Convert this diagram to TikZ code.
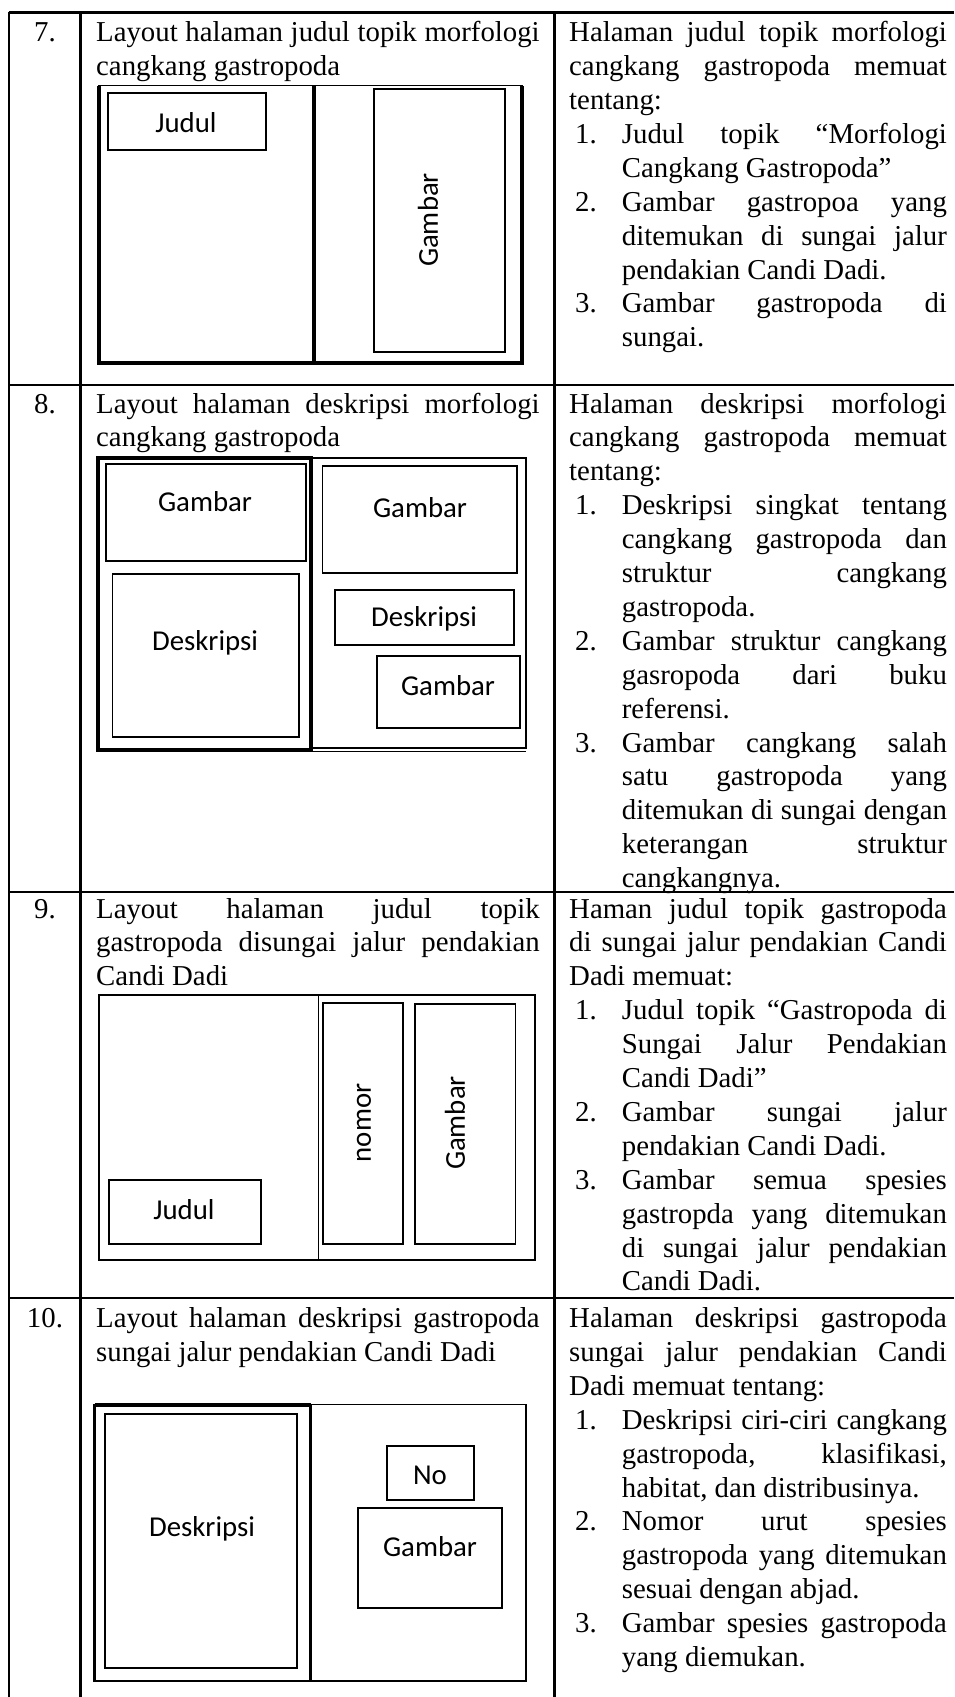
\documentclass[tikz,border=0pt]{standalone}
\usepackage{fontspec}
\setmainfont{Liberation Serif}
\newfontfamily\boxfont{Carlito}
\hyphenpenalty=10000
\exhyphenpenalty=10000
\tolerance=9999
\emergencystretch=20pt
\begin{document}
\begin{tikzpicture}[x=1pt,y=-1pt,
  rule/.style={line width=2.1pt},
  pagethick/.style={line width=3.5pt},
  pagethin/.style={line width=1.6pt},
  box/.style={line width=1.8pt},
  lbl/.style={font={\boxfont\fontsize{28.8}{34}\selectfont}, inner sep=0pt},
  para/.style={anchor=base west, inner sep=0pt, align=justify, font={\fontsize{28.8}{33.9}\selectfont}},
  mid/.style={para, text width=443.5pt},
  rgt/.style={para, text width=377.7pt},
  itm/.style={para, text width=325pt},
  num/.style={anchor=base west, inner sep=0pt, font={\fontsize{28.8}{33.9}\selectfont}},
  rownum/.style={anchor=base, inner sep=0pt, font={\fontsize{28.8}{33.9}\selectfont}}
]
\useasboundingbox (0,0) rectangle (954,1697);

% table rules
\draw[rule] (8.6,12.5) -- (954,12.5);
\draw[rule] (8.6,385) -- (954,385);
\draw[rule] (8.6,892) -- (954,892);
\draw[rule] (8.6,1298) -- (954,1298);
\draw[rule] (8.6,11.5) -- (8.6,1697);
\draw[rule] (80.5,11.5) -- (80.5,1697);
\draw[rule] (554.5,11.5) -- (554.5,1697);

% row numbers
\node[rownum] (n7) at (45,41.7) {7.};
\node[rownum] (n8) at (45,413) {8.};
\node[rownum] (n9) at (45,918) {9.};
\node[rownum] (n10) at (45,1327.5) {10.};

% ---------- row 7 ----------
\node[mid] (m7) at (96,41.7) {Layout halaman judul topik morfologi\linebreak cangkang gastropoda};
\draw[pagethin] (99,85.5) rectangle (522,363);
\draw[pagethick] (99,85.5) -- (99,363) -- (522,363) -- (522,85.5);
\draw[pagethick] (314,85.5) -- (314,363);
\draw[box] (108,93) rectangle (266,150);
\node[lbl] (d7judul) at (186,123) {Judul};
\draw[box] (374,89) rectangle (505,352);
\node[lbl, rotate=90] (d7gambar) at (428,220) {Gambar};

\node[rgt] (r7) at (569,41.7) {Halaman judul topik morfologi\linebreak cangkang gastropoda memuat\linebreak tentang:};
\node[num] (r7n1) at (575,143.4) {1.};
\node[itm] (r7i1) at (621.7,143.4) {Judul topik “Morfologi\linebreak Cangkang Gastropoda”};
\node[num] (r7n2) at (575,211.2) {2.};
\node[itm] (r7i2) at (621.7,211.2) {Gambar gastropoa yang\linebreak ditemukan di sungai jalur\linebreak pendakian Candi Dadi.};
\node[num] (r7n3) at (575,312.9) {3.};
\node[itm] (r7i3) at (621.7,312.9) {Gambar gastropoda di\linebreak sungai.};

% ---------- row 8 ----------
\node[mid] (m8) at (96,413) {Layout halaman deskripsi morfologi\linebreak cangkang gastropoda};
\draw[pagethin] (312,458) rectangle (526,748);
\draw[pagethin] (311,751.5) -- (526,751.5);
\draw[pagethick] (98,458) rectangle (311,750);
\draw[box] (106,464) rectangle (306,561);
\node[lbl] (d8g1) at (205,502) {Gambar};
\draw[box] (112.5,574) rectangle (299,737);
\node[lbl] (d8d1) at (205,643) {Deskripsi};
\draw[box] (322.5,466) rectangle (517,573);
\node[lbl] (d8g2) at (420,508) {Gambar};
\draw[box] (334.6,590) rectangle (513.6,645);
\node[lbl] (d8d2) at (424,619) {Deskripsi};
\draw[box] (377,656) rectangle (519.6,728);
\node[lbl] (d8g3) at (448,686) {Gambar};

\node[rgt] (r8) at (569,413) {Halaman deskripsi morfologi\linebreak cangkang gastropoda memuat\linebreak tentang:};
\node[num] (r8n1) at (575,514.7) {1.};
\node[itm] (r8i1) at (621.7,514.7) {Deskripsi singkat tentang\linebreak cangkang gastropoda dan\linebreak struktur cangkang\linebreak gastropoda.};
\node[num] (r8n2) at (575,650.3) {2.};
\node[itm] (r8i2) at (621.7,650.3) {Gambar struktur cangkang\linebreak gasropoda dari buku\linebreak referensi.};
\node[num] (r8n3) at (575,752) {3.};
\node[itm] (r8i3) at (621.7,752) {Gambar cangkang salah\linebreak satu gastropoda yang\linebreak ditemukan di sungai dengan\linebreak keterangan struktur\linebreak cangkangnya.};

% ---------- row 9 ----------
\node[mid] (m9) at (96,918) {Layout halaman judul topik\linebreak gastropoda disungai jalur pendakian\linebreak Candi Dadi};
\draw[box] (99,995) rectangle (535,1260);
\draw[pagethin] (318.6,995) -- (318.6,1260);
\draw[box] (323,1003) rectangle (403,1244);
\node[lbl, rotate=90] (d9nomor) at (364,1123) {nomor};
\draw[box] (415,1004) rectangle (515.4,1244);
\node[lbl, rotate=90] (d9gambar) at (455,1123) {Gambar};
\draw[box] (109,1180) rectangle (260.7,1244);
\node[lbl] (d9judul) at (184,1210) {Judul};

\node[rgt] (r9) at (569,918) {Haman judul topik gastropoda\linebreak di sungai jalur pendakian Candi\linebreak Dadi memuat:};
\node[num] (r9n1) at (575,1019.7) {1.};
\node[itm] (r9i1) at (621.7,1019.7) {Judul topik “Gastropoda di\linebreak Sungai Jalur Pendakian\linebreak Candi Dadi”};
\node[num] (r9n2) at (575,1121.4) {2.};
\node[itm] (r9i2) at (621.7,1121.4) {Gambar sungai jalur\linebreak pendakian Candi Dadi.};
\node[num] (r9n3) at (575,1189.2) {3.};
\node[itm] (r9i3) at (621.7,1189.2) {Gambar semua spesies\linebreak gastropda yang ditemukan\linebreak di sungai jalur pendakian\linebreak Candi Dadi.};

% ---------- row 10 ----------
\node[mid] (m10) at (96,1327.5) {Layout halaman deskripsi gastropoda\linebreak sungai jalur pendakian Candi Dadi};
\draw[box] (311,1404.5) rectangle (525.7,1681);
\draw[line width=2.5pt] (94.6,1405) rectangle (310.7,1681);
\draw[pagethick] (94.6,1405) -- (310.7,1405);
\draw[box] (104.6,1414) rectangle (297,1668);
\node[lbl] (d10desk) at (202,1529) {Deskripsi};
\draw[box] (386.8,1446) rectangle (473.6,1500);
\node[lbl] (d10no) at (430,1475) {No};
\draw[box] (358,1508) rectangle (501.8,1608);
\node[lbl] (d10gambar) at (430,1547) {Gambar};

\node[rgt] (r10) at (569,1327.5) {Halaman deskripsi gastropoda\linebreak sungai jalur pendakian Candi\linebreak Dadi memuat tentang:};
\node[num] (r10n1) at (575,1429.2) {1.};
\node[itm] (r10i1) at (621.7,1429.2) {Deskripsi ciri-ciri cangkang\linebreak gastropoda, klasifikasi,\linebreak habitat, dan distribusinya.};
\node[num] (r10n2) at (575,1530.9) {2.};
\node[itm] (r10i2) at (621.7,1530.9) {Nomor urut spesies\linebreak gastropoda yang ditemukan\linebreak sesuai dengan abjad.};
\node[num] (r10n3) at (575,1632.6) {3.};
\node[itm] (r10i3) at (621.7,1632.6) {Gambar spesies gastropoda\linebreak yang diemukan.};
\end{tikzpicture}
\end{document}
